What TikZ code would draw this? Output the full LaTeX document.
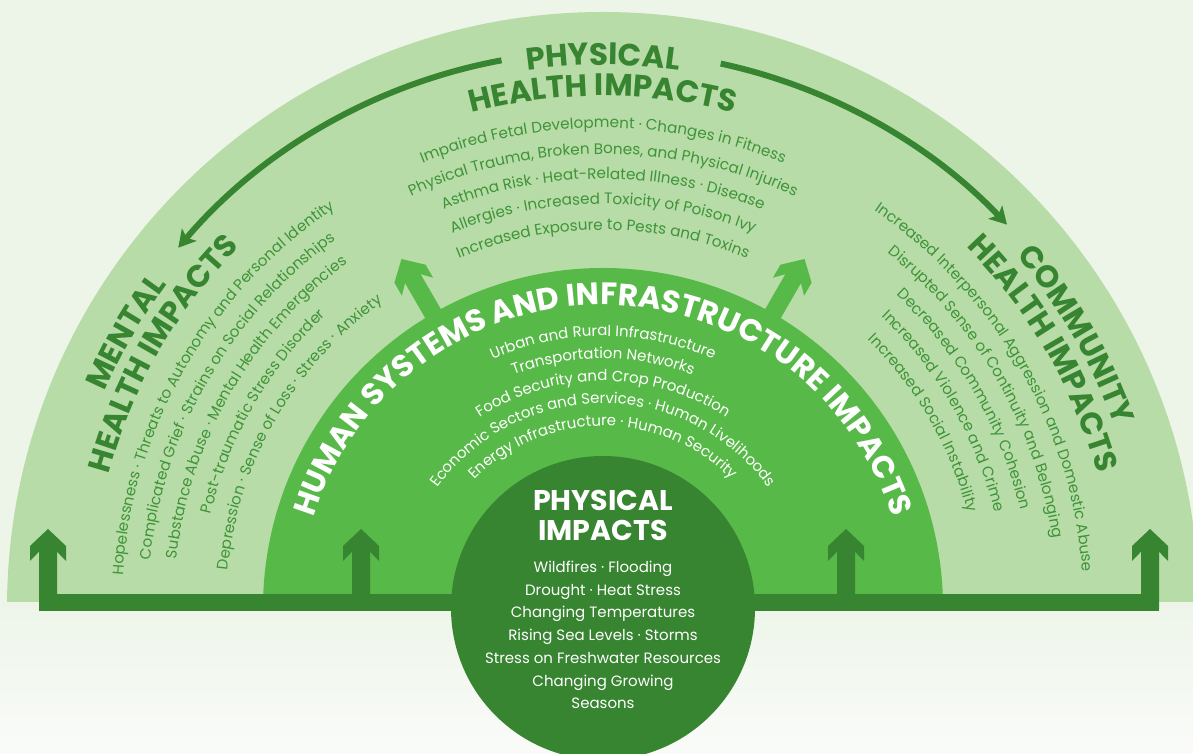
\documentclass[tikz,border=0pt]{standalone}
\usepackage{fontspec}
\setmainfont{Poppins}
\usetikzlibrary{decorations.text, arrows.meta}

\definecolor{bgtop}{RGB}{237,245,233}
\definecolor{bgbot}{RGB}{250,251,249}
\definecolor{ringlight}{RGB}{184,220,168}
\definecolor{ringmid}{RGB}{87,185,71}
\definecolor{ringdark}{RGB}{55,132,49}
\definecolor{bodytext}{RGB}{62,148,56}
\definecolor{titletext}{RGB}{55,132,49}

\newcommand\bodyfnt{\fontsize{15.2}{18}\selectfont}
\newcommand\titlefnt{\bfseries\fontsize{31}{36}\selectfont}
\newcommand\midfnt{\fontsize{15}{18}\selectfont}

% #1 centre angle, #2 baseline radius, #3 colour, #4 font, #5 text
\newcommand\ArcText[5]{%
  \path[decorate, decoration={text along path, text align=center,
      text color=#3, text={|#4|#5}}]
    (C) ++({#1+85}:#2) arc[start angle={#1+85}, end angle={#1-85}, radius=#2];
}
% #1 tip position, #2 rotation, #3 length, #4 colour
\newcommand\HeadArrow[4]{%
  \fill[#4, shift={(#1)}, rotate=#2] (0,0) -- (-18,-17) -- (-18,-32) -- (-9,-22.7)
    -- (-9,-#3) -- (9,-#3) -- (9,-22.7) -- (18,-32) -- (18,-17) -- cycle;
}

\tikzset{
  curvearrow/.style={draw=ringdark, line width=6pt, -{Stealth[length=17pt, width=19pt, inset=4pt]}},
  dottext/.style={text=white, align=center}
}

\begin{document}
\begin{tikzpicture}[x=1pt, y=1pt]
\useasboundingbox (0,0) rectangle (1193,754);
\coordinate (C) at (603,146);

% background
\fill[bgtop] (0,150) rectangle (1193,754);
\shade[top color=bgtop, bottom color=bgbot] (0,0) rectangle (1193,150.5);

% rings
\begin{scope}
  \clip (0,152.3) rectangle (1193,754);
  \fill[ringlight] (C) circle (596);
  \fill[ringmid] (C) circle (340);
\end{scope}

% diagonal arrows
\HeadArrow{401.5,495}{30}{70}{ringmid}
\HeadArrow{804.5,495}{-30}{70}{ringmid}

% centre circle
\fill[ringdark] (C) circle (152);

% bar and up arrows
\fill[ringdark] (39,143) rectangle (1159,160);
\HeadArrow{48,225}{0}{80}{ringdark}
\HeadArrow{361,225}{0}{80}{ringdark}
\HeadArrow{846,225}{0}{80}{ringdark}
\HeadArrow{1150,225}{0}{80}{ringdark}

% curved arrows
\draw[curvearrow] (C) ++(100.5:557) arc[start angle=100.5, end angle=139.7, radius=557];
\draw[curvearrow] (C) ++(77.8:557) arc[start angle=77.8, end angle=43.5, radius=557];

% titles
\ArcText{90}{543}{titletext}{\titlefnt}{PHYSICAL}
\ArcText{90}{512}{titletext}{\titlefnt}{HEALTH IMPACTS}
\ArcText{150}{543}{titletext}{\titlefnt}{MENTAL}
\ArcText{150}{512}{titletext}{\titlefnt}{HEALTH IMPACTS}
\ArcText{30}{543}{titletext}{\titlefnt}{COMMUNITY}
\ArcText{30}{512}{titletext}{\titlefnt}{HEALTH IMPACTS}

% physical health lines
\ArcText{90}{480}{bodytext}{\bodyfnt}{Impaired Fetal Development · Changes in Fitness}
\ArcText{90}{454}{bodytext}{\bodyfnt}{Physical Trauma, Broken Bones, and Physical Injuries}
\ArcText{90}{429}{bodytext}{\bodyfnt}{Asthma Risk · Heat-Related Illness · Disease}
\ArcText{90}{404}{bodytext}{\bodyfnt}{Allergies · Increased Toxicity of Poison Ivy}
\ArcText{90}{378}{bodytext}{\bodyfnt}{Increased Exposure to Pests and Toxins}

% mental health lines
\ArcText{150}{481}{bodytext}{\bodyfnt}{Hopelessness · Threats to Autonomy and Personal Identity}
\ArcText{150}{455}{bodytext}{\bodyfnt}{Complicated Grief · Strains on Social Relationships}
\ArcText{150}{429}{bodytext}{\bodyfnt}{Substance Abuse · Mental Health Emergencies}
\ArcText{150}{403}{bodytext}{\bodyfnt}{Post-traumatic Stress Disorder}
\ArcText{150}{377}{bodytext}{\bodyfnt}{Depression · Sense of Loss · Stress · Anxiety}

% community health lines
\ArcText{30}{481}{bodytext}{\bodyfnt}{Increased Interpersonal Aggression and Domestic Abuse}
\ArcText{30}{455}{bodytext}{\bodyfnt}{Disrupted Sense of Continuity and Belonging}
\ArcText{30}{429}{bodytext}{\bodyfnt}{Decreased Community Cohesion}
\ArcText{30}{403}{bodytext}{\bodyfnt}{Increased Violence and Crime}
\ArcText{30}{377}{bodytext}{\bodyfnt}{Increased Social Instability}

% human systems ring
\ArcText{90}{303}{white}{\titlefnt}{HUMAN SYSTEMS AND INFRASTRUCTURE IMPACTS}
\ArcText{90}{272}{white}{\midfnt}{Urban and Rural Infrastructure}
\ArcText{90}{249.5}{white}{\midfnt}{Transportation Networks}
\ArcText{90}{227}{white}{\midfnt}{Food Security and Crop Production}
\ArcText{90}{204.5}{white}{\midfnt}{Economic Sectors and Services · Human Livelihoods}
\ArcText{90}{182}{white}{\midfnt}{Energy Infrastructure · Human Security}

% physical impacts circle
\node[dottext, font=\bfseries\fontsize{28.5}{30}\selectfont] (physt) at (603,239) {PHYSICAL\\IMPACTS};
\node[dottext, font=\fontsize{15}{22.7}\selectfont] (physl) at (603,119)
  {Wildfires · Flooding\\Drought · Heat Stress\\Changing Temperatures\\Rising Sea Levels · Storms\\Stress on Freshwater Resources\\Changing Growing\\Seasons};
\end{tikzpicture}
\end{document}
